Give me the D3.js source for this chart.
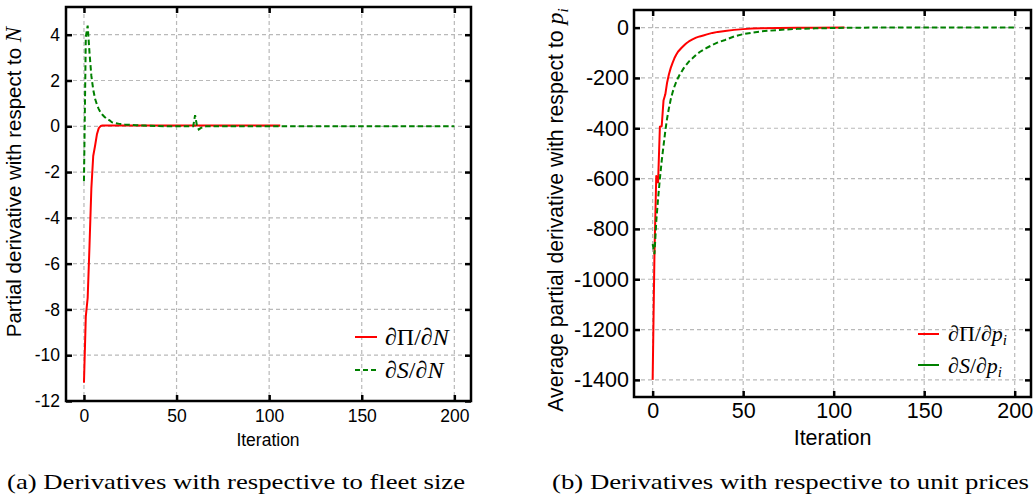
<!DOCTYPE html>
<html>
<head>
<meta charset="utf-8">
<script src="https://cdn.jsdelivr.net/npm/d3@7"></script>
<style>
  html, body { margin: 0; padding: 0; background: #fff; }
  svg { display: block; }
</style>
</head>
<body>
<svg id="fig" width="1033" height="497"></svg>
<script>
// ---- data: fleet-size derivatives (panel a) ----
const profitN_iter  = [0, 1, 2, 3, 4, 5, 6, 7, 8, 9, 10, 106];
const profitN_val   = [-11.2, -8.3, -7.5, -5.2, -2.7, -1.3, -0.85, -0.35, -0.08, 0.01, 0.03, 0.03];

const surplusN_iter = [0, 1, 2, 3, 4, 5, 6, 7, 8, 9, 10, 11, 12, 13, 14, 15, 16, 17, 18, 19, 20,
                       22, 24, 26, 28, 30, 33, 36, 40, 45, 59, 60, 61, 62, 63, 64, 65, 66, 200];
const surplusN_val  = [-2.4, 3.9, 4.4, 3.2, 2.2, 1.6, 1.2, 0.95, 0.75, 0.6, 0.5, 0.42, 0.35, 0.3, 0.25,
                       0.18, 0.155, 0.135, 0.12, 0.105, 0.095, 0.08, 0.07, 0.06, 0.05, 0.04, 0.03, 0.02,
                       0.01, 0.0, 0.0, 0.48, 0.04, -0.14, -0.08, -0.04, -0.02, 0, 0];

// ---- data: unit-price derivatives (panel b) ----
const profitP_iter  = [0, 1, 2, 3, 4, 5, 6, 7, 8, 9, 10, 11, 12, 13, 14, 15, 16, 17, 18, 19, 20,
                       22, 24, 26, 28, 30, 33, 36, 40, 45, 50, 55, 60, 70, 80, 90, 106];
const profitP_val   = [-1400, -900, -590, -615, -394, -392, -290, -265, -218, -185, -160, -140, -122,
                       -108, -96, -88, -80, -73, -66, -60, -55, -47, -40, -35, -31, -27, -21, -17, -13,
                       -9, -6, -4, -3, -1.5, -0.7, -0.3, 0];

const surplusP_iter = [0, 1, 2, 3, 4, 5, 6, 7, 8, 9, 10, 11, 12, 13, 14, 15, 16, 17, 18, 19, 20,
                       22, 24, 26, 28, 30, 33, 36, 40, 45, 50, 55, 60, 70, 80, 90, 100, 110, 120, 200];
const surplusP_val  = [-860, -900, -770, -680, -600, -530, -470, -410, -360, -320, -285, -258, -235,
                       -216, -200, -186, -175, -163, -153, -144, -135, -122, -108, -97, -88, -80, -69,
                       -59, -49, -35, -26, -20, -15, -9, -5, -3, -1.5, -0.6, 0, 0];

// ---- tick labels ----
const xTicks  = [0, 50, 100, 150, 200];
const yTicksA = [-12, -10, -8, -6, -4, -2, 0, 2, 4];
const yTicksB = [-1400, -1200, -1000, -800, -600, -400, -200, 0];

const svg = d3.select("#fig");
const SANS = "'Liberation Sans', Arial, sans-serif";
const SERIF = "'Liberation Serif', 'Times New Roman', serif";

function zip(xs, ys) { return xs.map((v, i) => [v, ys[i]]); }
// plain hyphen for negative tick labels
const plain = d => String(d);

function panel(o) {
  const x = d3.scaleLinear().domain(o.xDomain).range([o.left, o.right]);
  const y = d3.scaleLinear().domain(o.yDomain).range([o.bottom, o.top]);
  const g = svg.append("g");

  // dashed grid
  const grid = g.append("g").attr("stroke", "#b9b9b9").attr("stroke-width", 1.2)
    .attr("stroke-dasharray", "4,3");
  grid.selectAll(".gx").data(o.xTicks).join("line")
    .attr("x1", d => x(d)).attr("x2", d => x(d)).attr("y1", o.top).attr("y2", o.bottom);
  grid.selectAll(".gy").data(o.yTicks).join("line")
    .attr("x1", o.left).attr("x2", o.right).attr("y1", d => y(d)).attr("y2", d => y(d));

  // series
  const line = d3.line().x(d => x(d[0])).y(d => y(d[1]));
  const clipId = "clip" + o.id;
  svg.append("clipPath").attr("id", clipId).append("rect")
    .attr("x", o.left).attr("y", o.top).attr("width", o.right - o.left).attr("height", o.bottom - o.top);
  const lines = g.append("g").attr("clip-path", `url(#${clipId})`).attr("fill", "none");
  lines.append("path").datum(o.red).attr("d", line)
    .attr("stroke", "#ff0000").attr("stroke-width", 2).attr("stroke-linejoin", "round");
  lines.append("path").datum(o.green).attr("d", line)
    .attr("stroke", "#008000").attr("stroke-width", 2).attr("stroke-dasharray", "5.5,3");

  // axes with inward ticks on all four sides
  const ts = 6;
  const styleAxis = sel => {
    sel.select(".domain").remove();
    sel.selectAll(".tick line").attr("stroke", "#000").attr("stroke-width", 2.5);
    sel.selectAll(".tick text").attr("fill", "#000").style("font-family", SANS).style("font-size", o.fs + "px");
  };
  g.append("g").attr("transform", `translate(0,${o.bottom})`)
    .call(d3.axisBottom(x).tickValues(o.xTicks).tickSize(-ts).tickPadding(o.xPad).tickFormat(plain))
    .call(styleAxis);
  g.append("g").attr("transform", `translate(0,${o.top})`)
    .call(d3.axisTop(x).tickValues(o.xTicks).tickSize(-ts).tickFormat(""))
    .call(styleAxis);
  g.append("g").attr("transform", `translate(${o.left},0)`)
    .call(d3.axisLeft(y).tickValues(o.yTicks).tickSize(-ts).tickPadding(o.yPad).tickFormat(plain))
    .call(styleAxis);
  g.append("g").attr("transform", `translate(${o.right},0)`)
    .call(d3.axisRight(y).tickValues(o.yTicks).tickSize(-ts).tickFormat(""))
    .call(styleAxis);

  // frame
  g.append("rect").attr("x", o.left).attr("y", o.top)
    .attr("width", o.right - o.left).attr("height", o.bottom - o.top)
    .attr("fill", "none").attr("stroke", "#000").attr("stroke-width", 2.5);

  // x label
  g.append("text").attr("x", (o.left + o.right) / 2 + o.xLabelDx).attr("y", o.xLabelY)
    .attr("text-anchor", "middle").style("font-family", SANS).style("font-size", o.labelFs + "px")
    .text("Iteration");

  return { x, y, g };
}

// ---------- panel (a) ----------
const A = panel({
  id: "a", left: 66, right: 471, top: 7, bottom: 401,
  xDomain: [-9.7, 209], yDomain: [-12, 5.21],
  xTicks, yTicks: yTicksA, fs: 17.5, xPad: 9, yPad: 6,
  labelFs: 17.5, xLabelY: 446, xLabelDx: -0.5,
  red: zip(profitN_iter, profitN_val),
  green: zip(surplusN_iter, surplusN_val)
});

// y label (a)
{
  const t = svg.append("text")
    .attr("transform", "translate(21,182) rotate(-90)")
    .attr("text-anchor", "middle")
    .style("font-family", SANS).style("font-size", "20.5px");
  t.append("tspan").text("Partial derivative with respect to ");
  t.append("tspan").style("font-family", SERIF).style("font-style", "italic").style("font-size", "23px").text("N");
}

// legend (a)
{
  const lg = A.g.append("g");
  lg.append("line").attr("x1", 355).attr("x2", 377).attr("y1", 337).attr("y2", 337)
    .attr("stroke", "#ff0000").attr("stroke-width", 2);
  lg.append("line").attr("x1", 355).attr("x2", 377).attr("y1", 370).attr("y2", 370)
    .attr("stroke", "#008000").attr("stroke-width", 2).attr("stroke-dasharray", "5,3");
  const t1 = lg.append("text").attr("x", 385).attr("y", 345).style("font-family", SERIF).style("font-size", "24px");
  t1.append("tspan").text("∂Π/∂");
  t1.append("tspan").style("font-style", "italic").text("N");
  const t2 = lg.append("text").attr("x", 385).attr("y", 378).style("font-family", SERIF).style("font-size", "24px");
  t2.append("tspan").text("∂");
  t2.append("tspan").style("font-style", "italic").text("S");
  t2.append("tspan").text("/∂");
  t2.append("tspan").style("font-style", "italic").text("N");
}

// ---------- panel (b) ----------
const B = panel({
  id: "b", left: 634, right: 1031, top: 10, bottom: 397,
  xDomain: [-10.3, 209], yDomain: [-1468, 70],
  xTicks, yTicks: yTicksB, fs: 21.5, xPad: 6, yPad: 5,
  labelFs: 21.5, xLabelY: 445, xLabelDx: 0,
  red: zip(profitP_iter, profitP_val),
  green: zip(surplusP_iter, surplusP_val)
});

// y label (b)
{
  const t = svg.append("text")
    .attr("transform", "translate(563,210) rotate(-90)")
    .attr("text-anchor", "middle")
    .style("font-family", SANS).style("font-size", "21.2px");
  t.append("tspan").text("Average partial derivative with respect to ");
  t.append("tspan").style("font-family", SERIF).style("font-style", "italic").style("font-size", "24px").text("p");
  t.append("tspan").style("font-family", SERIF).style("font-style", "italic").style("font-size", "15px")
    .attr("dy", 5).text("i");
}

// legend (b)
{
  const lg = B.g.append("g");
  lg.append("line").attr("x1", 918).attr("x2", 939).attr("y1", 334).attr("y2", 334)
    .attr("stroke", "#ff0000").attr("stroke-width", 2);
  lg.append("line").attr("x1", 918).attr("x2", 939).attr("y1", 365).attr("y2", 365)
    .attr("stroke", "#008000").attr("stroke-width", 2);
  const row = (yy, letter) => {
    const t = lg.append("text").attr("x", 948).attr("y", yy).style("font-family", SERIF).style("font-size", "22px");
    t.append("tspan").text("∂");
    if (letter === "Π") t.append("tspan").text("Π");
    else t.append("tspan").style("font-style", "italic").text(letter);
    t.append("tspan").text("/∂");
    t.append("tspan").style("font-style", "italic").text("p");
    t.append("tspan").style("font-style", "italic").style("font-size", "15px").attr("dy", 4).text("i");
  };
  row(341, "Π");
  row(373, "S");
}

// ---------- captions ----------
svg.append("text").attr("x", 7).attr("y", 489)
  .attr("textLength", 458).attr("lengthAdjust", "spacingAndGlyphs")
  .style("font-family", SERIF).style("font-size", "21px")
  .text("(a) Derivatives with respective to fleet size");
svg.append("text").attr("x", 552).attr("y", 489)
  .attr("textLength", 477).attr("lengthAdjust", "spacingAndGlyphs")
  .style("font-family", SERIF).style("font-size", "21px")
  .text("(b) Derivatives with respective to unit prices");
</script>
</body>
</html>
